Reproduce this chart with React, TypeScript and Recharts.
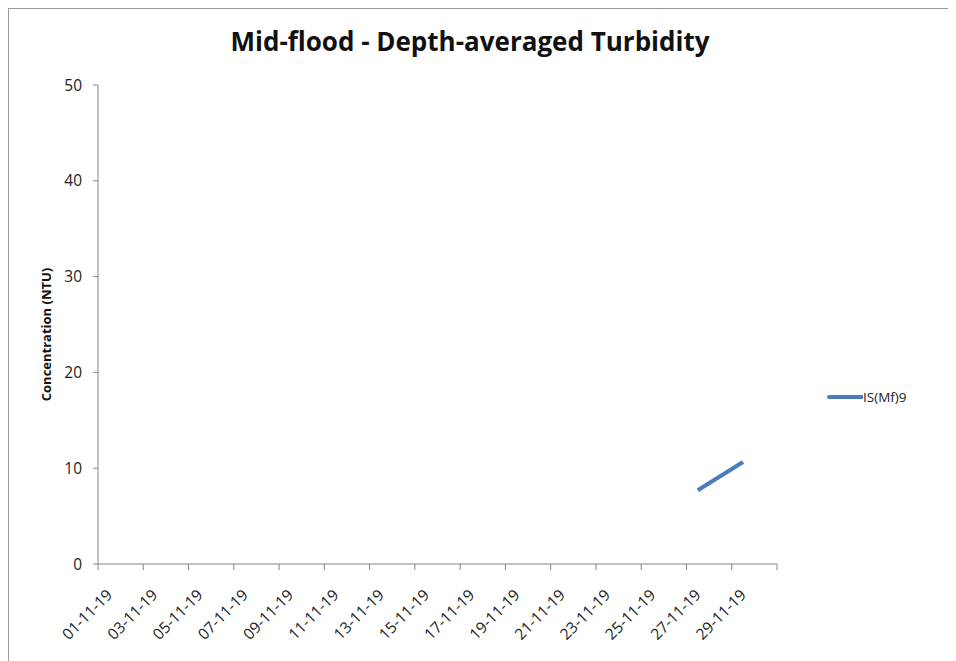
import { Line, LineChart, XAxis, YAxis } from "recharts";

const DATES = [
  "01-11-19", "02-11-19", "03-11-19", "04-11-19", "05-11-19", "06-11-19",
  "07-11-19", "08-11-19", "09-11-19", "10-11-19", "11-11-19", "12-11-19",
  "13-11-19", "14-11-19", "15-11-19", "16-11-19", "17-11-19", "18-11-19",
  "19-11-19", "20-11-19", "21-11-19", "22-11-19", "23-11-19", "24-11-19",
  "25-11-19", "26-11-19", "27-11-19", "28-11-19", "29-11-19", "30-11-19",
];

// IS(Mf)9 readings, only two days measured
const IS_MF9: (number | null)[] = [
  null, null, null, null, null, null, null, null, null, null,
  null, null, null, null, null, null, null, null, null, null,
  null, null, null, null, null, null, 7.7, null, 10.65, null,
];

const Y_TICKS = [0, 10, 20, 30, 40, 50];
const LABEL_DAYS = [1, 3, 5, 7, 9, 11, 13, 15, 17, 19, 21, 23, 25, 27, 29];

const AXIS = "#868686";
const BLUE = "#4a7ebb";
const FONT = "'Open Sans', sans-serif";

const data = DATES.map((date, i) => ({ day: i + 1, date, value: IS_MF9[i] }));
// tick marks sit on the slot edges, labels in the middle of the slot
const edgeTicks = [...LABEL_DAYS.map((d) => d - 0.5), DATES.length + 0.5];

function DateTick(props: any) {
  const { x, y, payload } = props;
  return (
    <g transform={`translate(${x + 4},${y + 26})`}>
      <text
        textAnchor="end"
        transform="rotate(-45)"
        fontSize={15.5}
        fontFamily={FONT}
        fill="#222"
      >
        {DATES[payload.value - 1]}
      </text>
    </g>
  );
}

const NoLabel = () => <g />;

export default function App() {
  return (
    <div
      style={{
        position: "relative",
        width: 947,
        height: 652,
        borderLeft: "1px solid #9a9a9a",
        borderTop: "1px solid #9a9a9a",
        background: "#fff",
      }}
    >
      <div
        style={{
          position: "absolute",
          left: 0,
          width: 922,
          top: 15,
          textAlign: "center",
          fontFamily: FONT,
          fontWeight: 700,
          fontSize: 26,
          lineHeight: 1.362,
          color: "#111",
        }}
      >
        Mid-flood - Depth-averaged Turbidity
      </div>
      <div
        style={{
          position: "absolute",
          left: 818,
          top: 379,
          display: "flex",
          alignItems: "center",
          fontFamily: FONT,
          fontSize: 13.5,
          color: "#222",
        }}
      >
        <svg width={36} height={6}>
          <line x1={2} y1={3} x2={35} y2={3} stroke={BLUE} strokeWidth={4} strokeLinecap="round" />
        </svg>
        <span>IS(Mf)9</span>
      </div>
      <LineChart width={947} height={652} data={data} margin={{ top: 76, right: 179, bottom: 0, left: 0 }}>
        <XAxis
          xAxisId="edges"
          dataKey="day"
          type="number"
          domain={[0.5, DATES.length + 0.5]}
          ticks={edgeTicks}
          tick={<NoLabel />}
          tickSize={6}
          height={6}
          stroke={AXIS}
          axisLine={{ stroke: AXIS }}
          tickLine={{ stroke: AXIS }}
        />
        <XAxis
          xAxisId="names"
          dataKey="day"
          type="number"
          domain={[0.5, DATES.length + 0.5]}
          ticks={LABEL_DAYS}
          tick={<DateTick />}
          tickSize={0}
          tickMargin={0}
          axisLine={false}
          tickLine={false}
          height={91}
        />
        <YAxis
          domain={[0, 50]}
          ticks={Y_TICKS}
          width={89}
          tickSize={5}
          tickMargin={11}
          axisLine={{ stroke: AXIS }}
          tickLine={{ stroke: AXIS }}
          tick={{ fontSize: 15.5, fontFamily: FONT, fill: "#222" }}
          label={{
            content: (p: any) => {
              const vb = p.viewBox;
              const cx = vb.x + 37;
              const cy = vb.y + vb.height / 2 + 10;
              return (
                <text
                  x={cx}
                  y={cy}
                  textAnchor="middle"
                  dominantBaseline="central"
                  transform={`rotate(-90,${cx},${cy})`}
                  fontFamily={FONT}
                  fontWeight={700}
                  fontSize={13}
                  fill="#111"
                >
                  Concentration (NTU)
                </text>
              );
            },
          }}
        />
        <Line
          xAxisId="edges"
          dataKey="value"
          stroke={BLUE}
          strokeWidth={4}
          dot={false}
          connectNulls
          isAnimationActive={false}
        />
      </LineChart>
    </div>
  );
}
